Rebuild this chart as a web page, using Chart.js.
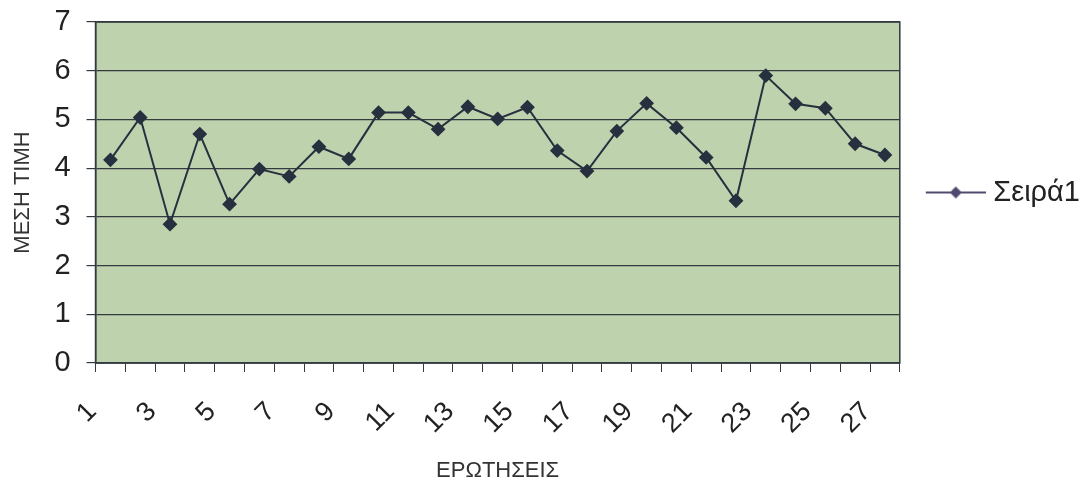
<!DOCTYPE html>
<html>
<head>
<meta charset="utf-8">
<script src="https://cdn.jsdelivr.net/npm/chart.js@4"></script>
<style>
  html, body { margin: 0; padding: 0; background: #ffffff; }
  #wrap { width: 1090px; height: 486px; }
</style>
</head>
<body>
<div id="wrap"><canvas id="chart"></canvas></div>
<script>
// question numbers 1..27
const questions = ['1', '2', '3', '4', '5', '6', '7', '8', '9', '10', '11', '12', '13', '14',
    '15', '16', '17', '18', '19', '20', '21', '22', '23', '24', '25', '26', '27'];

// mean value per question
const meanValues = [4.17, 5.04, 2.85, 4.70, 3.26, 3.98, 3.83, 4.44, 4.19, 5.14, 5.14, 4.80, 5.26, 5.01,
    5.25, 4.36, 3.94, 4.76, 5.33, 4.83, 4.22, 3.33, 5.90, 5.32, 5.23, 4.50, 4.27];

const yTicks = [0, 1, 2, 3, 4, 5, 6, 7];

const seriesName = 'Σειρά1';
const xTitle = 'ΕΡΩΤΗΣΕΙΣ';
const yTitle = 'ΜΕΣΗ ΤΙΜΗ';

const lineColor = '#27303e';
const fontFamily = '"Liberation Sans", Arial, sans-serif';

// legend symbol: short line with a diamond in the middle (left part transparent)
function legendSymbol() {
    const c = document.createElement('canvas');
    c.width = 90;
    c.height = 14;
    const g = c.getContext('2d');
    g.strokeStyle = '#52496e';
    g.lineWidth = 2;
    g.beginPath();
    g.moveTo(30, 7);
    g.lineTo(90, 7);
    g.stroke();
    g.fillStyle = '#52496e';
    g.beginPath();
    g.moveTo(60, 1);
    g.lineTo(66, 7);
    g.lineTo(60, 13);
    g.lineTo(54, 7);
    g.closePath();
    g.fill();
    return c;
}

// green plot background + frame
const plotFrame = {
    id: 'plotFrame',
    beforeDraw(chart) {
        const a = chart.chartArea;
        const ctx = chart.ctx;
        ctx.save();
        ctx.fillStyle = '#bed2ae';
        ctx.fillRect(a.left, a.top, a.right - a.left, a.bottom - a.top);
        ctx.restore();
    },
    afterDatasetsDraw(chart) {
        const a = chart.chartArea;
        const ctx = chart.ctx;
        ctx.save();
        ctx.strokeStyle = '#333a40';
        ctx.lineWidth = 1.5;
        ctx.strokeRect(a.left, a.top, a.right - a.left, a.bottom - a.top);
        ctx.restore();
    }
};

new Chart(document.getElementById('chart'), {
    type: 'line',
    data: {
        labels: questions,
        datasets: [{
            label: seriesName,
            data: meanValues,
            borderColor: lineColor,
            backgroundColor: lineColor,
            borderWidth: 2,
            pointStyle: 'rectRot',
            pointRadius: 6,
            pointBackgroundColor: lineColor,
            pointBorderColor: lineColor,
            tension: 0,
            fill: false
        }]
    },
    options: {
        responsive: true,
        maintainAspectRatio: false,
        animation: false,
        layout: { padding: { top: 0, left: 10, right: 0, bottom: 2 } },
        scales: {
            x: {
                offset: true,
                afterFit: function(axis) {
                    axis.height = 121;
                },
                grid: {
                    offset: true,
                    drawOnChartArea: false,
                    drawTicks: true,
                    tickLength: 9,
                    color: '#333a40'
                },
                border: { display: true, color: '#333a40', width: 1.5 },
                ticks: {
                    autoSkip: false,
                    maxRotation: 45,
                    minRotation: 45,
                    padding: 24,
                    labelOffset: -18,
                    color: '#222',
                    font: { family: fontFamily, size: 27 },
                    callback: function(val, idx) {
                        return idx % 2 === 0 ? questions[idx] : '';
                    }
                },
                title: {
                    display: true,
                    text: xTitle,
                    color: '#333',
                    font: { family: fontFamily, size: 22 },
                    padding: { top: 0, bottom: 0 }
                }
            },
            y: {
                min: yTicks[0],
                max: yTicks[yTicks.length - 1],
                afterBuildTicks: function(axis) {
                    axis.ticks = yTicks.map(v => ({ value: v }));
                },
                afterFit: function(axis) {
                    axis.paddingTop = 22;
                },
                grid: {
                    color: '#333a40',
                    lineWidth: 1.2,
                    tickLength: 9
                },
                border: { display: true, color: '#333a40', width: 1.5 },
                ticks: {
                    padding: 16,
                    color: '#222',
                    font: { family: fontFamily, size: 29 }
                },
                title: {
                    display: true,
                    text: yTitle,
                    color: '#333',
                    font: { family: fontFamily, size: 22 },
                    padding: { top: 0, bottom: 2 }
                }
            }
        },
        plugins: {
            legend: {
                position: 'right',
                fullSize: false,
                labels: {
                    usePointStyle: true,
                    pointStyle: legendSymbol(),
                    pointStyleWidth: 76,
                    color: '#222',
                    padding: 3,
                    font: { family: fontFamily, size: 29 }
                }
            },
            tooltip: { enabled: false }
        }
    },
    plugins: [plotFrame]
});
</script>
</body>
</html>
